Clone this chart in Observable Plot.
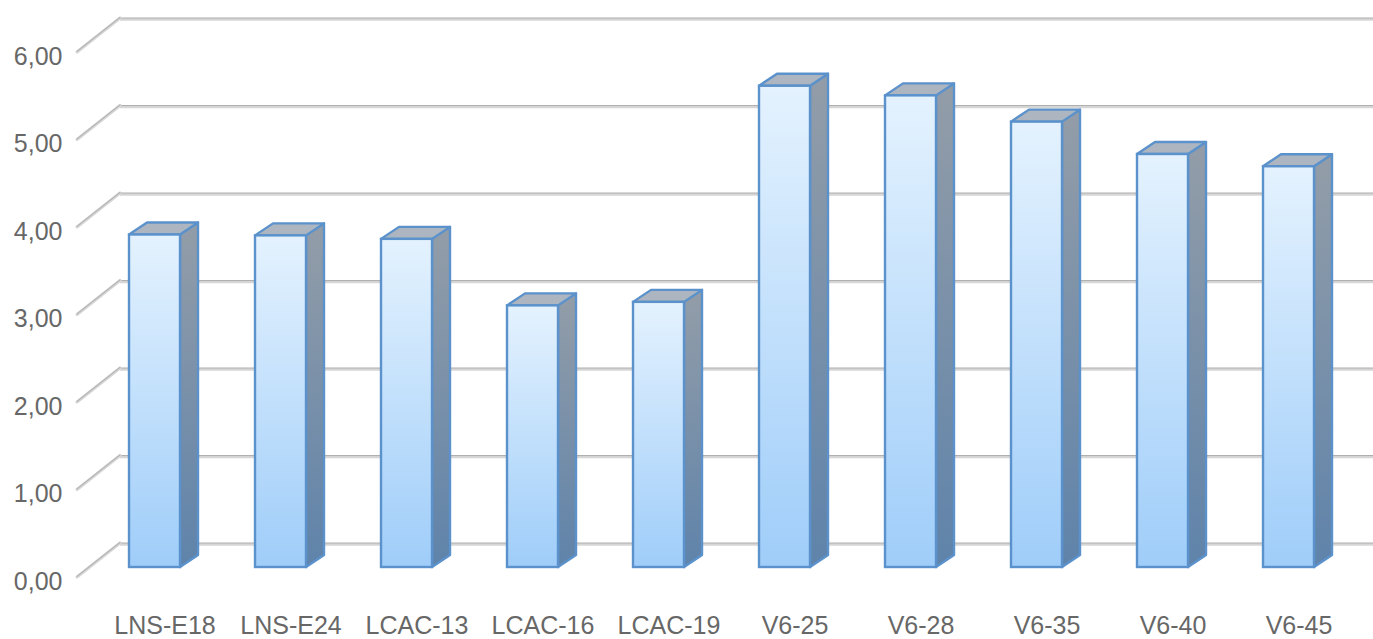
<!DOCTYPE html>
<html>
<head>
<meta charset="utf-8">
<script src="https://cdn.jsdelivr.net/npm/d3@7"></script>
<script src="https://cdn.jsdelivr.net/npm/@observablehq/plot@0.6"></script>
<style>
  html, body { margin: 0; padding: 0; background: #fff; }
  #chart svg { display: block; }
</style>
</head>
<body>
<div id="chart"></div>
<script>
// Samples and their measured values
const categories = ["LNS-E18", "LNS-E24", "LCAC-13", "LCAC-16", "LCAC-19", "V6-25", "V6-28", "V6-35", "V6-40", "V6-45"];
const values = [3.80, 3.79, 3.75, 2.99, 3.03, 5.50, 5.39, 5.09, 4.72, 4.58];
const yTicks = [0, 1, 2, 3, 4, 5, 6];

const data = categories.map((category, i) => ({category, value: values[i]}));

// Projection of the bar depth and of the back wall (pixels)
const depthX = 18, depthY = 12;
const wallX = 30, wallY = 24;
const floorX = 13, floorY = 10;

const fmt = v => v.toFixed(2).replace(".", ",");

// Gradients used by the bar faces
function gradients() {
  const defs = d3.create("svg:defs");
  const front = defs.append("linearGradient").attr("id", "bar-front")
    .attr("x1", 0).attr("y1", 0).attr("x2", 0).attr("y2", 1);
  front.append("stop").attr("offset", "0%").attr("stop-color", "#e4f2fe");
  front.append("stop").attr("offset", "100%").attr("stop-color", "#9fcdf9");
  const side = defs.append("linearGradient").attr("id", "bar-side")
    .attr("x1", 0).attr("y1", 0).attr("x2", 0).attr("y2", 1);
  side.append("stop").attr("offset", "0%").attr("stop-color", "#939da8");
  side.append("stop").attr("offset", "100%").attr("stop-color", "#5f83aa");
  return defs.node();
}

// Diagonal edges joining the front of the floor to the back wall
function floorEdges(index, {y}, channels, {marginLeft}) {
  const g = d3.create("svg:g");
  for (const v of yTicks) {
    const x1 = marginLeft - floorX, y1 = y(v) + floorY;
    const x2 = marginLeft + wallX, y2 = y(v) - wallY;
    g.append("line").attr("x1", x1).attr("y1", y1).attr("x2", x2).attr("y2", y2)
      .attr("stroke", "#d6d6d6").attr("stroke-width", 3).attr("stroke-linecap", "round");
    g.append("line").attr("x1", x1).attr("y1", y1 - 0.6).attr("x2", x2).attr("y2", y2 - 0.6)
      .attr("stroke", "#b3b3b3").attr("stroke-width", 1.2).attr("stroke-linecap", "round");
  }
  return g.node();
}

// Side and top faces that give each bar its depth
function barDepth(index, {x, y}) {
  const g = d3.create("svg:g");
  const bw = x.bandwidth();
  const y0 = y(0);
  for (const d of data) {
    const xl = x(d.category), xr = xl + bw, yt = y(d.value);
    g.append("path")
      .attr("d", `M${xr},${yt}L${xr + depthX},${yt - depthY}L${xr + depthX},${y0 - depthY}L${xr},${y0}Z`)
      .attr("fill", "url(#bar-side)")
      .attr("stroke", "#5b92cc").attr("stroke-width", 2.4).attr("stroke-linejoin", "round");
    g.append("path")
      .attr("d", `M${xl},${yt}L${xl + depthX},${yt - depthY}L${xr + depthX},${yt - depthY}L${xr},${yt}Z`)
      .attr("fill", "#adb6c0")
      .attr("stroke", "#5b92cc").attr("stroke-width", 2.4).attr("stroke-linejoin", "round");
  }
  return g.node();
}

const chart = Plot.plot({
  width: 1373,
  height: 639,
  marginLeft: 90,
  marginRight: 20,
  marginTop: 0,
  marginBottom: 72,
  style: {
    fontFamily: "'Liberation Sans', Arial, sans-serif",
    fontSize: "25px",
    color: "#676767",
    background: "#fff",
    overflow: "visible"
  },
  x: {domain: categories, paddingInner: 0.596, paddingOuter: 0.302, label: null},
  y: {domain: [0, 6], range: [567, 42], label: null},
  marks: [
    gradients,
    // back wall gridlines
    Plot.ruleY(yTicks, {y: d => d, dx: wallX, dy: -wallY + 1.2, stroke: "#d6d6d6", strokeWidth: 2}),
    Plot.ruleY(yTicks, {y: d => d, dx: wallX, dy: -wallY - 0.4, stroke: "#b0b0b0", strokeWidth: 1.3}),
    floorEdges,
    barDepth,
    Plot.barY(data, {x: "category", y: "value", fill: "url(#bar-front)", stroke: "#5b92cc", strokeWidth: 2.4}),
    Plot.axisY({ticks: yTicks, anchor: "left", tickSize: 0, tickPadding: 28, dy: 14, tickFormat: fmt, fontSize: 25, label: null}),
    Plot.axisX({anchor: "bottom", tickSize: 0, tickPadding: 49, dx: 10, fontSize: 25, label: null})
  ]
});

document.getElementById("chart").appendChild(chart);
</script>
</body>
</html>
